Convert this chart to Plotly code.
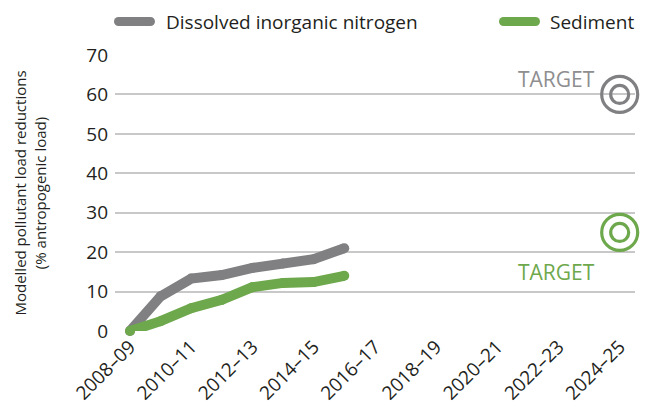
import plotly.graph_objects as go

years = ["2008–09", "2009–10", "2010–11", "2011–12", "2012–13", "2013–14", "2014–15",
         "2015–16", "2016–17", "2017–18", "2018–19", "2019–20", "2020–21", "2021–22",
         "2022–23", "2023–24", "2024–25"]
din_years = years[:8]
din_values = [0, 8.8, 13.3, 14.2, 16.0, 17.1, 18.2, 21.0]
sed_values = [0, 2.5, 5.8, 7.9, 11.1, 12.2, 12.4, 14.0]
target_year = "2024–25"
din_target = 60
sed_target = 25
tick_labels = years[::2]
series_names = ["Dissolved inorganic nitrogen", "Sediment"]

GRAY = "#808083"
GREEN = "#6ea84c"
FONT = "Open Sans"
TEXT = "#231f20"

OFF = 8  # page body margin
W, H = 650, 416
L, R, T, B = 115 - OFF, 23, 55 - OFF, 93
PW, PH = W - L - R, H - T - B


def px_x(px):
    return (px - OFF - L) / PW


def px_y(py):
    return (H - B - (py - OFF)) / PH


fig = go.Figure()
fig.add_trace(go.Scatter(x=din_years, y=din_values, mode="lines+markers",
                         name=series_names[0], showlegend=False,
                         line=dict(color=GRAY, width=10), marker=dict(size=10, color=GRAY),
                         cliponaxis=False))
fig.add_trace(go.Scatter(x=din_years, y=sed_values, mode="lines+markers",
                         name=series_names[1], showlegend=False,
                         line=dict(color=GREEN, width=10), marker=dict(size=10, color=GREEN),
                         cliponaxis=False))

for val, col in [(din_target, GRAY), (sed_target, GREEN)]:
    fig.add_trace(go.Scatter(x=[target_year], y=[val], mode="markers", showlegend=False,
                             marker=dict(symbol="circle-open", size=36, color=col,
                                         line=dict(width=3.2, color=col)),
                             cliponaxis=False, hoverinfo="skip"))
    fig.add_trace(go.Scatter(x=[target_year], y=[val], mode="markers", showlegend=False,
                             marker=dict(symbol="circle-open", size=18, color=col,
                                         line=dict(width=3.2, color=col)),
                             cliponaxis=False, hoverinfo="skip"))

fig.add_annotation(x=target_year, y=din_target, text="TARGET", showarrow=False,
                   xanchor="right", yanchor="middle", xshift=-23, yshift=15,
                   font=dict(family=FONT, size=21, color="#8e8e90"))
fig.add_annotation(x=target_year, y=sed_target, text="TARGET", showarrow=False,
                   xanchor="right", yanchor="middle", xshift=-23, yshift=-40,
                   font=dict(family=FONT, size=21, color=GREEN))

# manual legend (pill swatches + labels)
legend_pos = [(114, 165), (499, 549)]
ly = px_y(21.5)
for (sx, tx), name, col in zip(legend_pos, series_names, [GRAY, GREEN]):
    ax = px_x(sx)
    fig.add_shape(type="rect", xref="paper", yref="paper", xsizemode="pixel", ysizemode="pixel",
                  xanchor=ax, yanchor=ly, x0=4.5, x1=36.5, y0=-4.5, y1=4.5,
                  fillcolor=col, line=dict(width=0))
    for c in (0, 32):
        fig.add_shape(type="circle", xref="paper", yref="paper", xsizemode="pixel",
                      ysizemode="pixel", xanchor=ax, yanchor=ly, x0=c, x1=c + 9,
                      y0=-4.5, y1=4.5, fillcolor=col, line=dict(width=0))
    fig.add_annotation(xref="paper", yref="paper", x=px_x(tx), y=ly, text=name,
                       showarrow=False, xanchor="left", yanchor="middle", borderpad=0,
                       font=dict(family=FONT, size=19, color=TEXT))

fig.update_layout(
    width=W, height=H,
    margin=dict(l=L, r=R, t=T, b=B),
    paper_bgcolor="white", plot_bgcolor="white",
    font=dict(family=FONT, size=18, color=TEXT),
    showlegend=False,
    xaxis=dict(type="category", categoryorder="array", categoryarray=years,
               range=[-0.49, 16.5], tickmode="array", tickvals=tick_labels,
               ticktext=tick_labels, tickangle=-45, showgrid=False, zeroline=False,
               showline=False, ticks="", tickfont=dict(size=19), automargin=False),
    yaxis=dict(range=[0, 70], tickvals=[0, 10, 20, 30, 40, 50, 60, 70],
               showgrid=True, gridcolor="#c8c8c8", gridwidth=1.5, zeroline=False,
               ticks="", ticklabelstandoff=6, tickfont=dict(size=19), automargin=False,
               title=dict(text="Modelled pollutant load reductions<br>(% antropogenic load)",
                          font=dict(size=15), standoff=36)),
)

fig.write_html("out.html")
